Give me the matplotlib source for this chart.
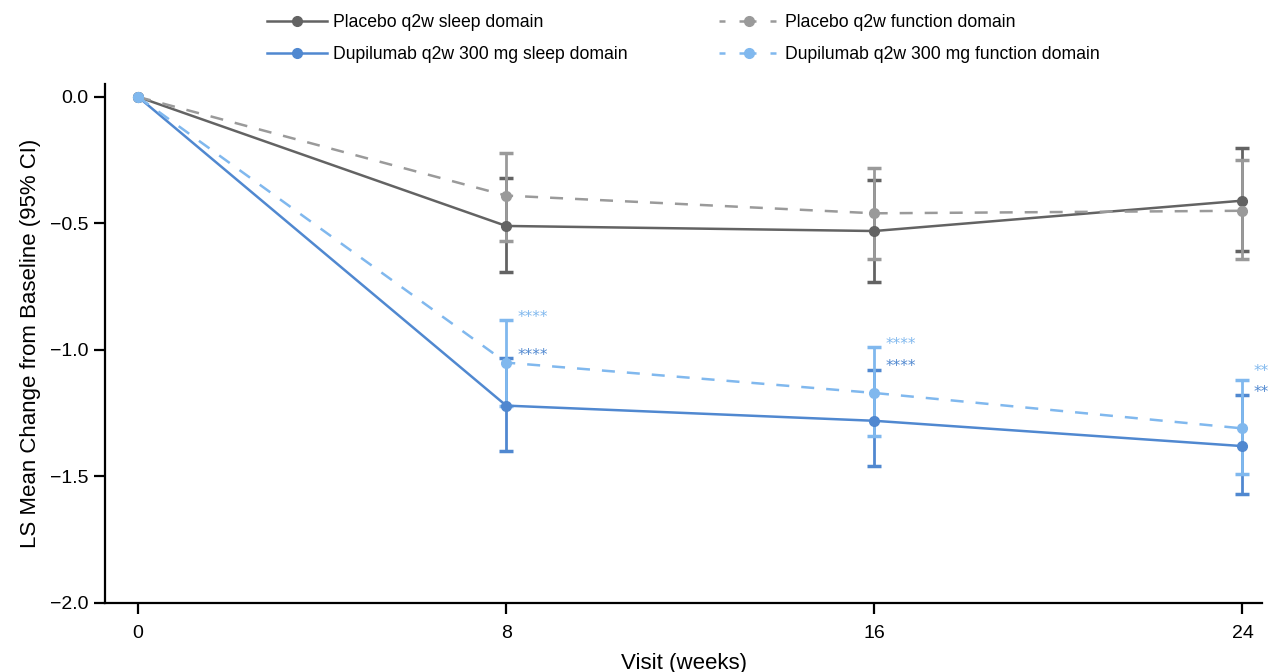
import matplotlib
matplotlib.use("Agg")
import matplotlib.pyplot as plt
from matplotlib.lines import Line2D
import numpy as np

plt.rcParams['font.family'] = ['Liberation Sans', 'DejaVu Sans']

weeks = [0, 8, 16, 24]

pbo_sleep = [0.0, -0.51, -0.53, -0.41]
pbo_sleep_lo = [0.0, -0.69, -0.73, -0.61]
pbo_sleep_hi = [0.0, -0.32, -0.33, -0.20]

pbo_func = [0.0, -0.39, -0.46, -0.45]
pbo_func_lo = [0.0, -0.57, -0.64, -0.64]
pbo_func_hi = [0.0, -0.22, -0.28, -0.25]

dup_sleep = [0.0, -1.22, -1.28, -1.38]
dup_sleep_lo = [0.0, -1.40, -1.46, -1.57]
dup_sleep_hi = [0.0, -1.03, -1.08, -1.18]

dup_func = [0.0, -1.05, -1.17, -1.31]
dup_func_lo = [0.0, -1.22, -1.34, -1.49]
dup_func_hi = [0.0, -0.88, -0.99, -1.12]

sig_sleep = ["", "****", "****", "**"]
sig_func = ["", "****", "****", "**"]

C_PS = "#636363"
C_DS = "#5088d0"
C_PF = "#9a9a9a"
C_DF = "#80b8ee"

series = [
    ("Placebo q2w sleep domain", pbo_sleep, pbo_sleep_lo, pbo_sleep_hi, C_PS, "-"),
    ("Dupilumab q2w 300 mg sleep domain", dup_sleep, dup_sleep_lo, dup_sleep_hi, C_DS, "-"),
    ("Placebo q2w function domain", pbo_func, pbo_func_lo, pbo_func_hi, C_PF, "--"),
    ("Dupilumab q2w 300 mg function domain", dup_func, dup_func_lo, dup_func_hi, C_DF, "--"),
]

fig = plt.figure(figsize=(12.71, 6.72), dpi=100)
ax = fig.add_axes([0.0826, 0.1027, 0.9105, 0.7723])

LW = 1.8
handles = []
for label, y, lo, hi, col, ls in series:
    y = np.array(y); lo = np.array(lo); hi = np.array(hi)
    yerr = np.vstack([y - lo, hi - y])
    x = np.array(weeks, dtype=float)
    ax.errorbar(x[1:], y[1:], yerr=yerr[:, 1:], fmt='none', ecolor=col,
                elinewidth=2.0, capsize=4.8, capthick=2.5, zorder=2)
    kw = dict(color=col, linewidth=LW, marker='o', markersize=7, zorder=3)
    if ls == '--':
        ax.plot(x, y, linestyle='--', dashes=(5.2, 4.8), **kw)
        h = Line2D([], [], linestyle='--', dashes=(2.4, 5.6, 6.8, 5.6, 2.4, 10),
                   label=label, **kw)
    else:
        ax.plot(x, y, linestyle='-', **kw)
        h = Line2D([], [], linestyle='-', label=label, **kw)
    handles.append(h)

# significance annotations (offset above upper CI)
func_off = [0, 0.008, 0.013, 0.035]
sleep_off = [0, 0.008, 0.013, 0.01]
for i in range(1, 4):
    ax.text(weeks[i] + 0.24, dup_func_hi[i] + func_off[i], sig_func[i], color=C_DF,
            fontsize=11, family='DejaVu Sans', ha='left', va='center', clip_on=False)
    ax.text(weeks[i] + 0.24, dup_sleep_hi[i] + sleep_off[i], sig_sleep[i], color=C_DS,
            fontsize=11, family='DejaVu Sans', ha='left', va='center', clip_on=False)

ax.set_xlim(-0.72, 24.43)
ax.set_ylim(-2.0, 0.051)
ax.set_xticks(weeks)
ax.set_xticklabels([str(w) for w in weeks])
ax.set_yticks([0.0, -0.5, -1.0, -1.5, -2.0])
ax.set_yticklabels(["0.0", "\u22120.5", "\u22121.0", "\u22121.5", "\u22122.0"])
ax.spines['top'].set_visible(False)
ax.spines['right'].set_visible(False)
for s in ['left', 'bottom']:
    ax.spines[s].set_linewidth(1.6)
ax.tick_params(axis='both', labelsize=14, width=1.6, length=8)
ax.tick_params(axis='x', pad=7.5)
ax.tick_params(axis='y', pad=4)
ax.set_xlabel("Visit (weeks)", fontsize=16, labelpad=8)
ax.set_ylabel("LS Mean Change from Baseline (95% CI)", fontsize=16, labelpad=6)

fig.legend(handles=handles, loc='upper left', bbox_to_anchor=(0.2046, 0.989),
           borderaxespad=0, ncol=2, frameon=False, fontsize=12.7, handlelength=3.4,
           columnspacing=5.2, labelspacing=0.85, handletextpad=0.34)

fig.savefig("out.png", dpi=100)
